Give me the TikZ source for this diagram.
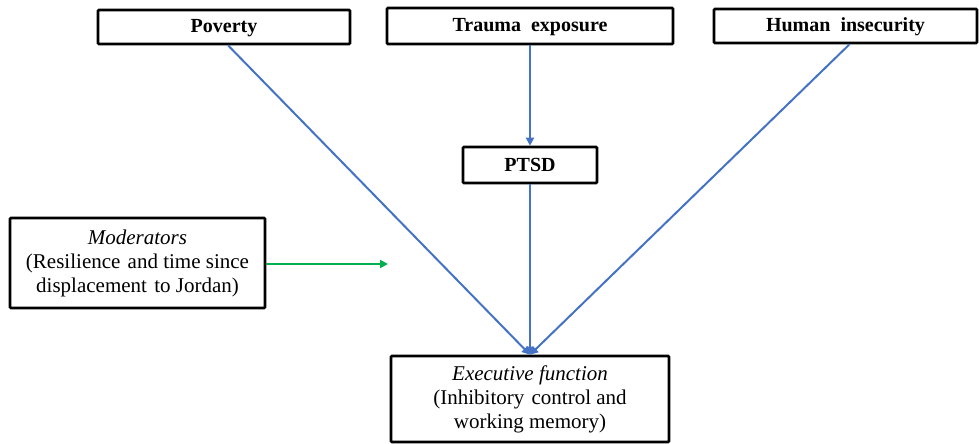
\documentclass[tikz,border=0pt]{standalone}
\usepackage{fontspec}
\setmainfont{Liberation Serif}
\usetikzlibrary{arrows.meta}
\definecolor{lineblue}{HTML}{4472C4}
\definecolor{linegreen}{HTML}{00B050}
\begin{document}
\begin{tikzpicture}[x=1pt,y=-1pt,
  box/.style={draw=black,line width=2.6pt,rounded corners=1pt,fill=white,align=center,inner sep=0pt,
    font=\fontsize{21}{24}\selectfont},
  topbox/.style={box,font=\fontsize{20}{22}\selectfont\bfseries,text height=14pt,text depth=2pt},
  bluearrow/.style={draw=lineblue,line width=2pt,-{Triangle[length=8pt,width=8pt]}},
  greenarrow/.style={draw=linegreen,line width=2pt,-{Triangle[length=8pt,width=8pt]}}]
\useasboundingbox (0,0) rectangle (979,444);
\node[topbox,minimum width=252pt,minimum height=34pt] (pov) at (224,27) {Poverty};
\node[topbox,minimum width=286pt,minimum height=36pt] (trauma) at (530,26) {Trauma~ exposure};
\node[topbox,minimum width=263pt,minimum height=34pt] (human) at (845.5,26) {Human~ insecurity};
\node[topbox,minimum width=134pt,minimum height=36pt] (ptsd) at (530,165) {PTSD};
\node[box,minimum width=255pt,minimum height=90pt] (mod) at (137.5,263)
  {\textit{Moderators}\\(Resilience\hspace{2pt} and time since\\displacement\hspace{2pt} to Jordan)};
\node[box,minimum width=278pt,minimum height=86pt] (exec) at (530,399)
  {\textit{Executive function}\\(Inhibitory\hspace{2pt} control and\\working memory)};
\coordinate (modend) at (388,264);
\draw[bluearrow] (pov.south) ++(4,0) -- (exec.north);
\draw[bluearrow] (human.south) ++(4,0) -- (exec.north);
\draw[bluearrow] (trauma.south) -- (ptsd.north);
\draw[bluearrow] (ptsd.south) -- (exec.north);
\draw[greenarrow] (mod.east |- modend) -- (modend);
\end{tikzpicture}
\end{document}
